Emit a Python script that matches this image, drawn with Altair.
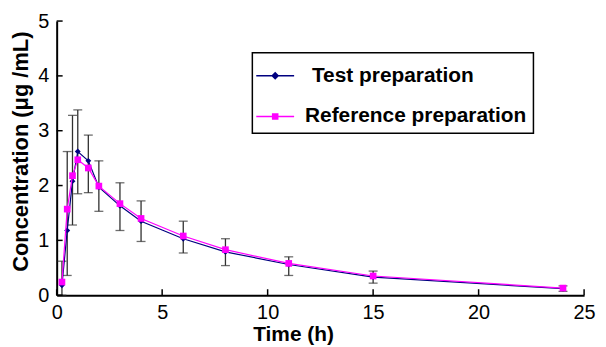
import altair as alt
import pandas as pd

# ---- data ----
time_h = [0.25, 0.5, 0.75, 1, 1.5, 2, 3, 4, 6, 8, 11, 15, 24]
test_conc = [0.18, 1.18, 2.08, 2.62, 2.45, 1.97, 1.63, 1.35, 1.03, 0.79, 0.56, 0.33, 0.12]
ref_conc = [0.24, 1.57, 2.18, 2.47, 2.32, 1.99, 1.67, 1.40, 1.08, 0.83, 0.58, 0.35, 0.13]
sd_low = [0.0, 0.36, 1.28, 1.85, 1.87, 1.53, 1.18, 0.98, 0.77, 0.54, 0.36, 0.22, 0.07]
sd_high = [0.62, 2.62, 3.28, 3.38, 2.92, 2.45, 2.05, 1.72, 1.35, 1.03, 0.70, 0.44, 0.17]
x_ticks = [0, 5, 10, 15, 20, 25]
y_ticks = [0, 1, 2, 3, 4, 5]
series_names = ["Test preparation", "Reference preparation"]
series_colors = ["#000080", "#ff00ff"]
legend_paths = [
    "M-1.27,0H1.27M0,-0.2L0.2,0L0,0.2L-0.2,0ZM0,-0.12L0.12,0L0,0.12L-0.12,0ZM0,-0.05L0.05,0L0,0.05L-0.05,0Z",
    "M-1.27,0H1.27M-0.17,-0.17H0.17V0.17H-0.17ZM-0.1,-0.1H0.1V0.1H-0.1ZM-0.03,-0.03H0.03V0.03H-0.03Z",
]

W, H = 531, 276
FONT = "Liberation Sans"

test_df = pd.DataFrame({"t": time_h, "c": test_conc})
ref_df = pd.DataFrame({"t": time_h, "c": ref_conc})
err_df = pd.DataFrame({"t": time_h, "c": sd_low, "c2": sd_high})
xt_df = pd.DataFrame({"t": x_ticks})
yt_df = pd.DataFrame({"c": y_ticks})
leg_df = pd.DataFrame({"t": [-5, -5], "c": [-5, -5], "series": series_names})

x_axis = alt.Axis(values=x_ticks, title="Time (h)", labelPadding=7, labelFlush=False,
                  titleX=238, titleY=46, titleBaseline="alphabetic", titleAlign="center")
y_axis = alt.Axis(values=y_ticks, title="Concentration (μg /mL)", labelPadding=8, labelFlush=False,
                  titleX=-36, titleY=131, titleAngle=270, titleBaseline="middle",
                  titleAlign="center", titleFontSize=22)
x_scale = alt.Scale(domain=[0, 25], nice=False, zero=False, padding=0)
y_scale = alt.Scale(domain=[0, 5], nice=False, zero=False, padding=0)
x_enc = alt.X("t:Q", scale=x_scale, axis=x_axis)
y_enc = alt.Y("c:Q", scale=y_scale, axis=y_axis)

ERR = "#303030"
err_rule = alt.Chart(err_df).mark_rule(color=ERR, strokeWidth=1.3).encode(
    x=x_enc, y=y_enc, y2="c2:Q")
err_cap_lo = alt.Chart(err_df).mark_tick(color=ERR, thickness=1.3, size=9,
                                         orient="horizontal").encode(x=x_enc, y=y_enc)
err_cap_hi = alt.Chart(err_df).mark_tick(color=ERR, thickness=1.3, size=9,
                                         orient="horizontal").encode(
    x=x_enc, y=alt.Y("c2:Q", scale=y_scale, axis=y_axis))

test_line = alt.Chart(test_df).mark_line(color=series_colors[0], strokeWidth=1.2).encode(x=x_enc, y=y_enc)
test_pts = alt.Chart(test_df).mark_point(shape="diamond", filled=True, size=35, opacity=1,
                                         color=series_colors[0]).encode(x=x_enc, y=y_enc)
ref_line = alt.Chart(ref_df).mark_line(color=series_colors[1], strokeWidth=1.2).encode(x=x_enc, y=y_enc)
ref_pts = alt.Chart(ref_df).mark_point(shape="square", filled=True, size=45, opacity=1,
                                       color=series_colors[1]).encode(x=x_enc, y=y_enc)

xticks_layer = alt.Chart(xt_df).mark_rule(color="black", strokeWidth=1.5).encode(
    x=x_enc, y=alt.value(H), y2=alt.value(H - 6))
yticks_layer = alt.Chart(yt_df).mark_rule(color="black", strokeWidth=1.5).encode(
    y=y_enc, x=alt.value(0), x2=alt.value(6))

# small indent before the first legend label, as in the original
label_expr = "datum.value == 'Test preparation' ? '\u200b\u2004Test preparation' : datum.label"
legend_layer = alt.Chart(leg_df).mark_point(clip=True, opacity=1, filled=False, strokeWidth=1.5).encode(
    x=x_enc, y=y_enc,
    color=alt.Color("series:N", scale=alt.Scale(domain=series_names, range=series_colors),
                    legend=alt.Legend(title=None, orient="none", legendX=197, legendY=32,
                                      labelExpr=label_expr)),
    shape=alt.Shape("series:N", scale=alt.Scale(domain=series_names, range=legend_paths),
                    legend=alt.Legend(title=None, orient="none", legendX=197, legendY=32,
                                      labelExpr=label_expr)),
)

chart = alt.layer(
    err_rule, err_cap_lo, err_cap_hi,
    test_line, test_pts, ref_line, ref_pts,
    xticks_layer, yticks_layer, legend_layer,
).properties(
    width=W, height=H,
    autosize=alt.AutoSizeParams(type="none"),
    padding={"left": 49, "top": 12, "right": 14, "bottom": 50},
).configure_view(stroke=None).configure_axis(
    grid=False, ticks=False, domainColor="black", domainWidth=2,
    labelFont=FONT, labelFontSize=20, labelColor="black",
    titleFont=FONT, titleFontSize=21, titleFontWeight="bold", titleColor="black",
).configure_legend(
    strokeColor="black", strokeWidth=1.5, padding=7, symbolSize=900, rowPadding=15,
    labelFont=FONT, labelFontSize=21, labelFontWeight="bold", labelColor="black",
    labelLimit=400, labelOffset=14, symbolStrokeWidth=1.5,
)

chart.save("out.html", embed_options={"renderer": "svg", "actions": False})
